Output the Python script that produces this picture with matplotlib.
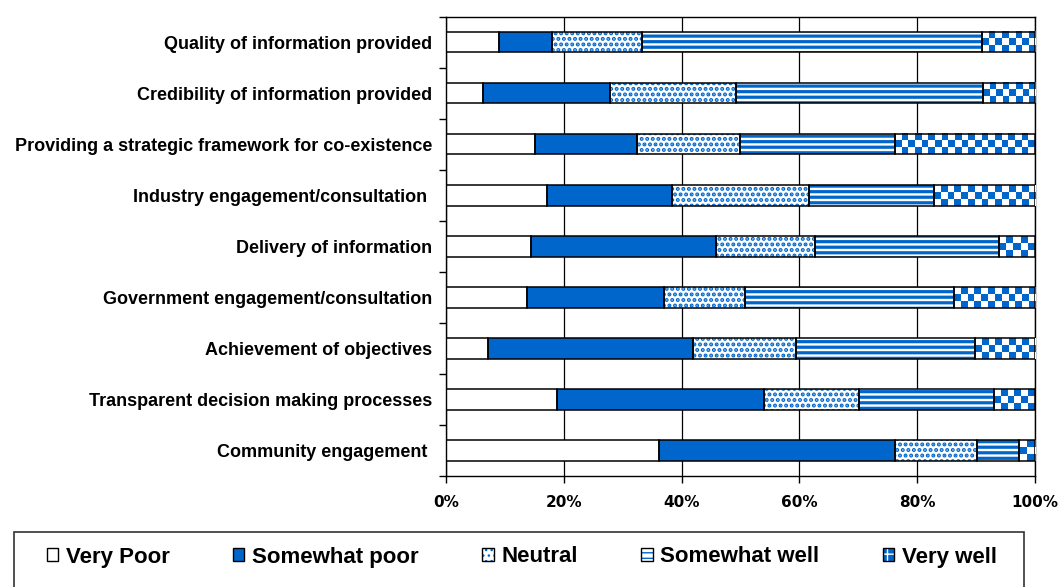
import numpy as np
import matplotlib
matplotlib.use('Agg')
import matplotlib.pyplot as plt
from matplotlib.patches import Rectangle
from matplotlib.colors import ListedColormap
from matplotlib.font_manager import FontProperties

# data (percent of responses)
categories = ['Quality of information provided',
              'Credibility of information provided',
              'Providing a strategic framework for co-existence',
              'Industry engagement/consultation ',
              'Delivery of information',
              'Government engagement/consultation',
              'Achievement of objectives',
              'Transparent decision making processes',
              'Community engagement ']
very_poor = [9.0, 6.2, 15.1, 17.1, 14.5, 13.7, 7.2, 18.9, 36.2]
somewhat_poor = [9.0, 21.7, 17.3, 21.3, 31.3, 23.3, 34.8, 35.1, 40.1]
neutral = [15.2, 21.4, 17.5, 23.2, 16.8, 13.7, 17.5, 16.2, 13.9]
somewhat_well = [57.8, 41.8, 26.4, 21.2, 31.3, 35.5, 30.3, 22.9, 7.0]
very_well = [9.0, 8.9, 23.7, 17.2, 6.1, 13.8, 10.2, 6.9, 2.8]
series_names = ['Very Poor', 'Somewhat poor', 'Neutral', 'Somewhat well', 'Very well']
x_ticks = [0, 20, 40, 60, 80, 100]
x_labels = ['0%', '20%', '40%', '60%', '80%', '100%']

blue = '#0066CC'

fig = plt.figure(figsize=(10.61, 5.87), dpi=100)
ax = fig.add_axes([446 / 1061, 111 / 587, 589 / 1061, 459.5 / 587])

# fill styles for each series
styles = [
    dict(facecolor='white', edgecolor='white', hatch=None, hlw=1.0),
    dict(facecolor=blue, edgecolor=blue, hatch=None, hlw=1.0),
    dict(facecolor='white', edgecolor=blue, hatch='...', hlw=2.0),
    dict(facecolor='white', edgecolor=blue, hatch='---', hlw=2.3),
    dict(facecolor='white', edgecolor='white', hatch=None, hlw=1.0),
]
checker_cmap = ListedColormap(['white', blue])
cell = 1.14  # checker square width in % units

y = np.arange(len(categories))
bar_h = 0.405
left = np.zeros(len(categories))
handles = []
for i, vals in enumerate([very_poor, somewhat_poor, neutral, somewhat_well, very_well]):
    vals = np.array(vals)
    st = styles[i]
    with plt.rc_context({'hatch.linewidth': st['hlw']}):
        bars = ax.barh(y, vals, left=left, height=bar_h, facecolor=st['facecolor'],
                       edgecolor=st['edgecolor'], hatch=st['hatch'], lw=0, zorder=2)
        if i == 4:
            fill_h = Rectangle((0, 0), 1, 1, facecolor=blue, edgecolor='white', hatch='++', lw=0)
        else:
            fill_h = Rectangle((0, 0), 1, 1, facecolor=st['facecolor'], edgecolor=st['edgecolor'],
                               hatch=st['hatch'], lw=0)
    ax.barh(y, vals, left=left, height=bar_h, fill=False, edgecolor='black',
            lw=1.1, zorder=4)
    if i == 4:
        # checkerboard pattern for "Very well"
        for b in bars:
            x0, y0, w, h = b.get_x(), b.get_y(), b.get_width(), b.get_height()
            cols = max(1, int(round(w / cell)))
            arr = np.add.outer(np.arange(3), np.arange(cols)) % 2
            ax.imshow(arr, cmap=checker_cmap, extent=(x0, x0 + w, y0 + h, y0),
                      aspect='auto', interpolation='nearest', zorder=3)
    outline_h = Rectangle((0, 0), 1, 1, fill=False, edgecolor='black', lw=1)
    handles.append((fill_h, outline_h))
    left += vals

ax.set_xlim(0, 100)
ax.set_ylim(len(categories) - 0.5, -0.5)
ax.xaxis.grid(True, color='black', lw=0.9)
ax.set_axisbelow(True)

ax.set_xticks(x_ticks, labels=x_labels, fontsize=11, fontweight='bold', fontfamily='DejaVu Sans')
ax.tick_params(axis='x', length=5, width=1, direction='out', pad=9)
ax.set_yticks(y, labels=categories, fontsize=13, fontweight='bold', fontfamily='Liberation Sans')
ax.tick_params(axis='y', which='major', length=0, pad=10)
ax.set_yticks(np.arange(-0.5, len(categories)), minor=True)
ax.tick_params(axis='y', which='minor', length=5, width=1, direction='out')
for s in ax.spines.values():
    s.set_color('black')
    s.set_linewidth(1)

# legend box
fig.add_artist(Rectangle((14 / 1061, -0.1), (1024 - 14) / 1061, (587 - 532) / 587 + 0.1,
                         transform=fig.transFigure, fill=False, edgecolor='#333333', lw=1.2))
fig.legend(handles, series_names, loc='center left',
           bbox_to_anchor=(47 / 1061, 1 - 557 / 587, (997 - 47) / 1061, 0),
           mode='expand', ncol=5, frameon=False,
           prop=FontProperties(family='Liberation Sans', weight='bold', size=16),
           handlelength=0.5, handleheight=0.5, handletextpad=0.35,
           borderpad=0, borderaxespad=0)

fig.savefig('out.png', dpi=100)
